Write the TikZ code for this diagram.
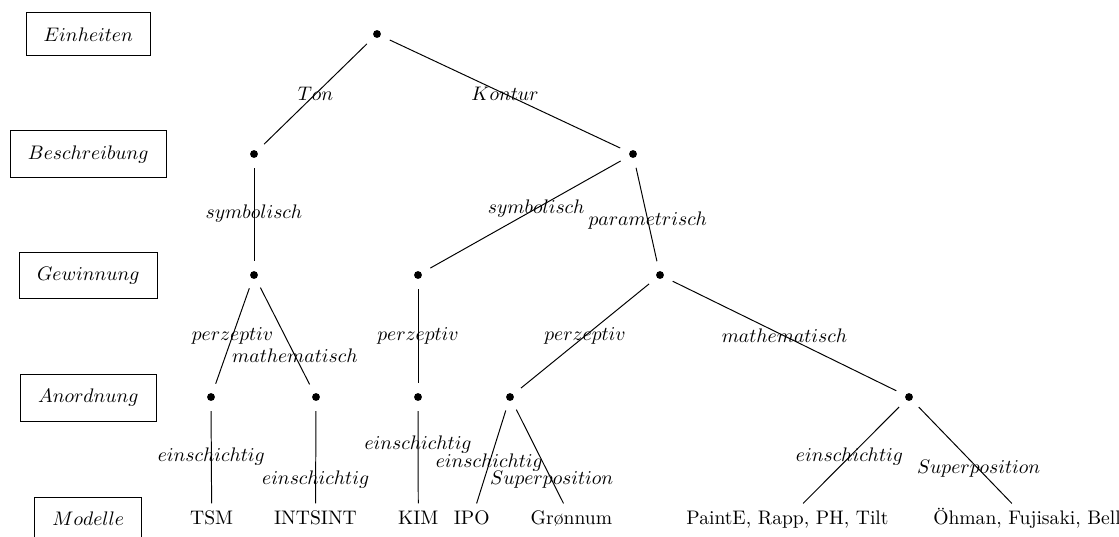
\documentclass[tikz,border=0pt]{standalone}
\usetikzlibrary{calc}
\begin{document}
\begin{tikzpicture}[x=0.51pt,y=-0.51pt,
  dot/.style={circle, minimum size=14pt, inner sep=0pt,
    path picture={\fill (path picture bounding box.center) circle (2pt);}},
  leaf/.style={inner sep=3.3pt, text height=7pt, text depth=2pt, anchor=base},
  lbl/.style={inner sep=0pt},
  levelbox/.style={draw, line width=0.5pt, inner xsep=9pt, inner ysep=7.5pt},
  edge/.style={line width=0.5pt}]
\useasboundingbox (0,0) rectangle (1119,536);
\clip (0,0) rectangle (1119,536);

% level names on the left
\node[levelbox] (einh) at (88.3,34.3)  {$Einheiten$};
\node[levelbox] (besc) at (88.3,154.3) {$Beschreibung$};
\node[levelbox] (gewi) at (88.3,275.5) {$Gewinnung$};
\node[levelbox] (anor) at (88.3,398)   {$Anordnung$};
\node[levelbox, anchor=base, text depth=4pt] (mode) at (88.3,525.5) {$Modelle$};

% inner nodes of the tree
\node[dot] (r)  at (377,34)  {};
\node[dot] (b1) at (254,154) {};
\node[dot] (b2) at (633,154) {};
\node[dot] (g1) at (254,275) {};
\node[dot] (g2) at (418,275) {};
\node[dot] (g3) at (660,275) {};
\node[dot] (a1) at (211,397) {};
\node[dot] (a2) at (316,397) {};
\node[dot] (a3) at (418,397) {};
\node[dot] (a4) at (510,397) {};
\node[dot] (a5) at (909,397) {};

% models
\node[leaf] (tsm)   at (211.7,524) {TSM};
\node[leaf] (ints)  at (315.5,524) {INTSINT};
\node[leaf] (kim)   at (418.3,524) {KIM};
\node[leaf] (ipo)   at (471.7,524) {IPO};
\node[leaf] (gron)  at (571.4,524) {Grønnum};
\node[leaf] (paint) at (787.5,524) {PaintE, Rapp, PH, Tilt};
\node[leaf] (ohm)   at (1027,524)  {Öhman, Fujisaki, Bell};

% branches
\draw[edge] (r) -- (b1);
\draw[edge] (r) -- (b2);
\draw[edge] (b1) -- (g1);
\draw[edge] (b2) -- (g2);
\draw[edge] (b2) -- (g3);
\draw[edge] (g1) -- (a1);
\draw[edge] (g1) -- (a2);
\draw[edge] (g2) -- (a3);
\draw[edge] (g3) -- (a4);
\draw[edge] (g3) -- (a5);
\draw[edge] (a1) -- (tsm);
\draw[edge] (a2) -- (ints);
\draw[edge] (a3) -- (kim);
\draw[edge] (a4) -- (ipo);
\draw[edge] (a4) -- (gron);
\draw[edge] (a5) -- (paint);
\draw[edge] (a5) -- (ohm);

% branch labels
\node[lbl] (lton) at ($(r)!0.5!(b1)$)   {$Ton$};
\node[lbl] (lkon) at ($(r)!0.5!(b2)$)   {$Kontur$};
\node[lbl] (lsy1) at ($(b1)!0.49!(g1)$) {$symbolisch$};
\node[lbl] (lsy2) at ($(b2)!0.45!(g2)$) {$symbolisch$};
\node[lbl] (lpar) at ($(b2)!0.55!(g3)$) {$parametrisch$};
\node[lbl] (lpe1) at ($(g1)!0.5!(a1)$)  {$perzeptiv$};
\node[lbl] (lma1) at ($(g1)!0.66!(a2)$) {$mathematisch$};
\node[lbl] (lpe2) at ($(g2)!0.5!(a3)$)  {$perzeptiv$};
\node[lbl] (lpe3) at ($(g3)!0.5!(a4)$)  {$perzeptiv$};
\node[lbl] (lma2) at ($(g3)!0.5!(a5)$)  {$mathematisch$};
\node[lbl] (lei1) at ($(a1)!0.49!(tsm)$)   {$einschichtig$};
\node[lbl] (lei2) at ($(a2)!0.68!(ints)$)  {$einschichtig$};
\node[lbl] (lei3) at ($(a3)!0.39!(kim)$)   {$einschichtig$};
\node[lbl] (lei4) at ($(a4)!0.54!(ipo)$)   {$einschichtig$};
\node[lbl] (lsu1) at ($(a4)!0.68!(gron)$)  {$Superposition$};
\node[lbl] (lei5) at ($(a5)!0.49!(paint)$) {$einschichtig$};
\node[lbl] (lsu2) at ($(a5)!0.59!(ohm)$)   {$Superposition$};
\end{tikzpicture}
\end{document}
